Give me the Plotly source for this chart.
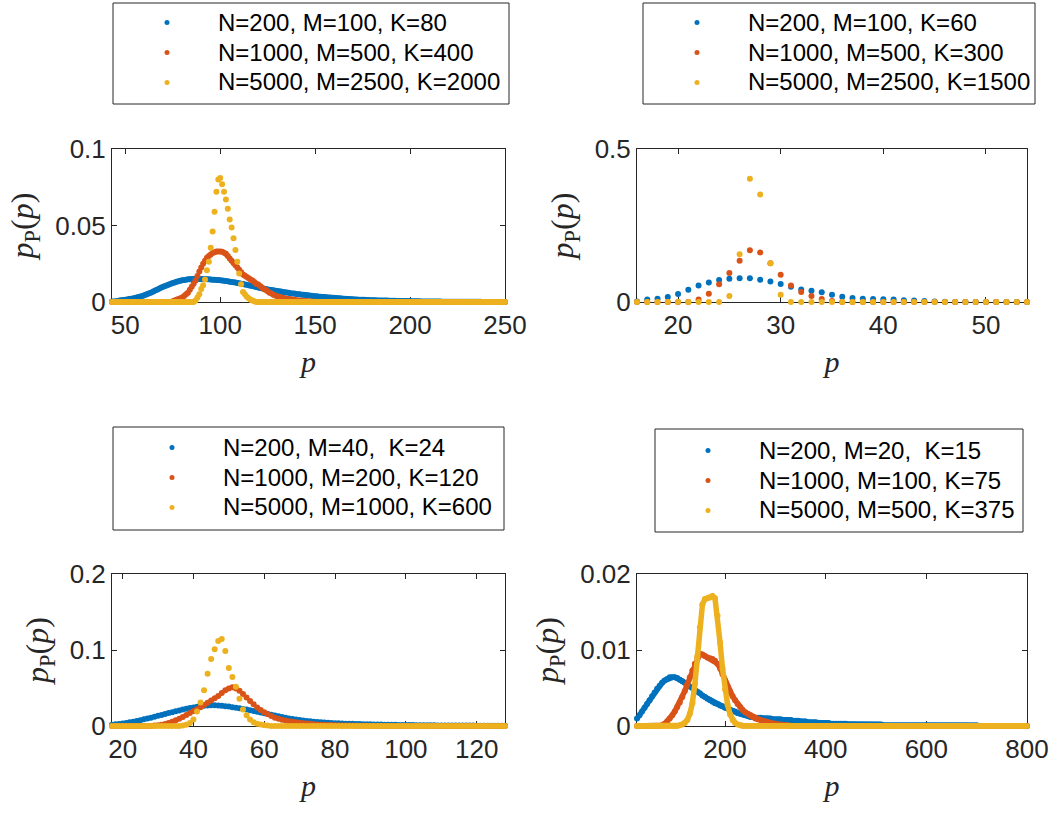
import plotly.graph_objects as go

W, H = 1063, 813
COLORS = ["#0072BD", "#D95319", "#EDB120"]

# ---------------- data ----------------
# panel (a)
p_a = list(range(43, 251))
blue_a = [0.0003, 0.0004, 0.0005, 0.0007, 0.0009, 0.0011, 0.0013, 0.0015, 0.0017, 0.0019,
          0.0021, 0.0023, 0.0026, 0.0029, 0.0032, 0.0036, 0.0040, 0.0044, 0.0049, 0.0054,
          0.0059, 0.0064, 0.0070, 0.0076, 0.0082, 0.0088, 0.0094, 0.0099, 0.0105, 0.0110,
          0.0115, 0.0120, 0.0124, 0.0128, 0.0132, 0.0136, 0.0139, 0.0142, 0.0144, 0.0146,
          0.0148, 0.0149, 0.0150, 0.0151, 0.0151, 0.0151, 0.0151, 0.0151, 0.0150, 0.0150,
          0.0149, 0.0148, 0.0147, 0.0146, 0.0145, 0.0144, 0.0143, 0.0142, 0.0140, 0.0139,
          0.0137, 0.0135, 0.0133, 0.0131, 0.0129, 0.0127, 0.0125, 0.0123, 0.0120, 0.0118,
          0.0115, 0.0112, 0.0110, 0.0107, 0.0104, 0.0101, 0.0098, 0.0095, 0.0092, 0.0090,
          0.0087, 0.0085, 0.0082, 0.0080, 0.0078, 0.0076, 0.0074, 0.0072, 0.0070, 0.0068,
          0.0066, 0.0064, 0.0062, 0.0060, 0.0058, 0.0056, 0.0055, 0.0053, 0.0051, 0.0050,
          0.0048, 0.0047, 0.0045, 0.0044, 0.0042, 0.0041, 0.0039, 0.0038, 0.0037, 0.0035,
          0.0034, 0.0033, 0.0032, 0.0031, 0.0030, 0.0029, 0.0028, 0.0027, 0.0026, 0.0025,
          0.0024, 0.0023, 0.0022, 0.0021, 0.0020, 0.0019, 0.0018, 0.0018, 0.0017, 0.0016,
          0.0015, 0.0015, 0.0014, 0.0014, 0.0013, 0.0013, 0.0012, 0.0012, 0.0011, 0.0011,
          0.0010, 0.0010, 0.0010, 0.0009, 0.0009, 0.0009, 0.0008, 0.0008, 0.0008, 0.0008,
          0.0007, 0.0007, 0.0007, 0.0007, 0.0006, 0.0006, 0.0006, 0.0006, 0.0005, 0.0005,
          0.0005, 0.0005, 0.0005, 0.0004, 0.0004, 0.0004, 0.0004, 0.0004, 0.0003, 0.0003,
          0.0003, 0.0003, 0.0003, 0.0003, 0.0002, 0.0002, 0.0002, 0.0002, 0.0002, 0.0002,
          0.0002, 0.0001, 0.0001, 0.0001, 0.0001, 0.0001, 0.0001, 0.0001, 0.0001, 0.0001,
          0.0001, 0.0001, 0.0001, 0.0001, 0.0001, 0, 0, 0, 0, 0,
          0, 0, 0, 0, 0, 0, 0, 0]
red_a = ([0] * 32 +
         [0.0005, 0.0010, 0.0015, 0.0020, 0.0025, 0.0030, 0.0040, 0.0050, 0.0060, 0.0080,
          0.0100, 0.0120, 0.0140, 0.0170, 0.0200, 0.0225, 0.0250, 0.0270, 0.0290, 0.0300,
          0.0310, 0.0320, 0.0325, 0.0330, 0.0330, 0.0330, 0.0328, 0.0322, 0.0315, 0.0300,
          0.0285, 0.0270, 0.0255, 0.0240, 0.0225, 0.0210, 0.0195, 0.0180, 0.0172, 0.0163,
          0.0155, 0.0147, 0.0140, 0.0130, 0.0120, 0.0115, 0.0105, 0.0095, 0.0085, 0.0078,
          0.0070, 0.0060, 0.0055, 0.0048, 0.0042, 0.0038, 0.0034, 0.0030, 0.0027, 0.0024,
          0.0022, 0.0020, 0.0018, 0.0016, 0.0014, 0.0012, 0.0010, 0.0009, 0.0008, 0.0007,
          0.0006, 0.0005, 0.0004, 0.0003, 0.0002, 0.0001] +
         [0] * 100)
yellow_a = ([0] * 44 +
            [0.0010, 0.0030, 0.0050, 0.0085, 0.0110, 0.0147, 0.0208, 0.0263, 0.0355, 0.0460,
             0.0590, 0.0720, 0.0800, 0.0810, 0.0770, 0.0720, 0.0670, 0.0610, 0.0540, 0.0487,
             0.0417, 0.0340, 0.0263, 0.0186, 0.0116, 0.0066, 0.0050, 0.0035, 0.0025, 0.0015,
             0.0010, 0.0005] +
            [0] * 132)
labels_a = ["N=200, M=100, K=80", "N=1000, M=500, K=400", "N=5000, M=2500, K=2000"]

# panel (b)
p_b = list(range(16, 55))
blue_b = [0.002, 0.008, 0.011, 0.016, 0.026, 0.040, 0.054, 0.064, 0.072, 0.076,
          0.078, 0.078, 0.073, 0.067, 0.059, 0.050, 0.041, 0.037, 0.032, 0.024,
          0.017, 0.013, 0.011, 0.010, 0.009, 0.008, 0.006, 0.005, 0.003, 0.002,
          0.001, 0, 0, 0, 0, 0, 0, 0, 0]
red_b = [0, 0, 0, 0, 0, 0, 0.008, 0.027, 0.058, 0.095,
         0.135, 0.169, 0.162, 0.127, 0.089, 0.054, 0.033, 0.020, 0.010, 0.003,
         0, 0, 0, 0, 0, 0, 0, 0, 0, 0,
         0, 0, 0, 0, 0, 0, 0, 0, 0]
yellow_b = [0, 0, 0, 0, 0, 0, 0, 0, 0, 0.020,
            0.156, 0.403, 0.351, 0.127, 0.024, 0, 0, 0, 0, 0,
            0, 0, 0, 0, 0, 0, 0, 0, 0, 0,
            0, 0, 0, 0, 0, 0, 0, 0, 0]
labels_b = ["N=200, M=100, K=60", "N=1000, M=500, K=300", "N=5000, M=2500, K=1500"]

# panel (c)
p_c = list(range(17, 129))
blue_c = [0.0018, 0.0022, 0.0027, 0.0033, 0.0040, 0.0048, 0.0057, 0.0067, 0.0077, 0.0088,
          0.0099, 0.0110, 0.0122, 0.0134, 0.0146, 0.0158, 0.0170, 0.0182, 0.0194, 0.0205,
          0.0216, 0.0226, 0.0236, 0.0245, 0.0253, 0.0260, 0.0266, 0.0270, 0.0272, 0.0272,
          0.0270, 0.0266, 0.0261, 0.0255, 0.0248, 0.0241, 0.0233, 0.0225, 0.0216, 0.0207,
          0.0197, 0.0187, 0.0177, 0.0167, 0.0157, 0.0147, 0.0137, 0.0127, 0.0118, 0.0109,
          0.0100, 0.0092, 0.0085, 0.0078, 0.0072, 0.0066, 0.0061, 0.0056, 0.0052, 0.0048,
          0.0045, 0.0042, 0.0039, 0.0037, 0.0035, 0.0033, 0.0031, 0.0029, 0.0028, 0.0026,
          0.0025, 0.0024, 0.0023, 0.0022, 0.0021, 0.0020, 0.0019, 0.0018, 0.0017, 0.0016,
          0.0015, 0.0014, 0.0014, 0.0013, 0.0012, 0.0012, 0.0011, 0.0011, 0.0010, 0.0010,
          0.0009, 0.0009, 0.0008, 0.0008, 0.0008, 0.0007, 0.0007, 0.0006, 0.0006, 0.0006,
          0.0005, 0.0005, 0.0005, 0.0004, 0.0004, 0.0004, 0.0003, 0.0003, 0.0003, 0.0003,
          0.0002, 0.0002]
red_c = ([0] * 12 +
         [0.0005, 0.0010, 0.0016, 0.0025, 0.0038, 0.0055, 0.0075, 0.0097, 0.0120, 0.0145,
          0.0170, 0.0196, 0.0222, 0.0248, 0.0275, 0.0305, 0.0335, 0.0365, 0.0395, 0.0435,
          0.0470, 0.0495, 0.0510, 0.0495, 0.0465, 0.0420, 0.0375, 0.0330, 0.0285, 0.0245,
          0.0210, 0.0180, 0.0153, 0.0130, 0.0110, 0.0095, 0.0083, 0.0072, 0.0063, 0.0055,
          0.0048, 0.0042, 0.0037, 0.0032, 0.0028, 0.0024, 0.0021, 0.0018, 0.0016, 0.0014,
          0.0012, 0.0010, 0.0009, 0.0008, 0.0007, 0.0006, 0.0005, 0.0004, 0.0003, 0.0002,
          0.0002, 0.0001] +
         [0] * 38)
yellow_c = ([0] * 20 +
            [0.0005, 0.0015, 0.0040, 0.0087, 0.0190, 0.0310, 0.0470, 0.0686, 0.0880, 0.1010,
             0.1120, 0.1144, 0.0987, 0.0764, 0.0646, 0.0515, 0.0358, 0.0218, 0.0140, 0.0087,
             0.0050, 0.0030, 0.0020, 0.0010, 0.0005] +
            [0] * 67)
labels_c = ["N=200, M=40,\u00a0 K=24", "N=1000, M=200, K=120", "N=5000, M=1000, K=600"]

# panel (d)  (sampled every 5 in p)
p_d = list(range(25, 801, 5))
blue_d = [0.0010, 0.0014, 0.0019, 0.0024, 0.0029, 0.0034, 0.0039, 0.0044, 0.0049, 0.0053,
          0.0057, 0.0060, 0.0062, 0.0064, 0.0064, 0.0064, 0.0063, 0.0061, 0.0059, 0.0057,
          0.0055, 0.0052, 0.0050, 0.0047, 0.0045, 0.0043, 0.0040, 0.0038, 0.0036, 0.0034,
          0.0032, 0.0030, 0.0029, 0.0027, 0.0026, 0.0024, 0.0023, 0.0021, 0.0020, 0.0019,
          0.0017, 0.0016, 0.0015, 0.0014, 0.0013, 0.0012, 0.0012, 0.0011, 0.0011, 0.0011,
          0.0010, 0.0010, 0.0010, 0.0010, 0.0009, 0.0009, 0.0009, 0.0009, 0.0008, 0.0008,
          0.0008, 0.0008, 0.0007, 0.0007, 0.0007, 0.0006, 0.0006, 0.0006, 0.0005, 0.0005,
          0.0005, 0.0005, 0.0004, 0.0004, 0.0004, 0.0004, 0.0004, 0.0003, 0.0003, 0.0003,
          0.0003, 0.0003, 0.0003, 0.0003, 0.0002, 0.0002, 0.0002, 0.0002, 0.0002, 0.0002,
          0.0002, 0.0002, 0.0002, 0.0002, 0.0002, 0.0002, 0.0002, 0.0002, 0.0001, 0.0001,
          0.0001, 0.0001, 0.0001, 0.0001, 0.0001, 0.0001, 0.0001, 0.0001, 0.0001, 0.0001,
          0.0001, 0.0001, 0.0001, 0.0001, 0.0001, 0.0001, 0.0001, 0.0001, 0.0001, 0.0001,
          0.0001, 0.0001, 0.0001, 0.0001, 0.0001, 0.0001, 0.0001, 0.0001, 0.0001, 0.0001,
          0.0001, 0.0001, 0.0001, 0.0001, 0.0001, 0.0001, 0, 0, 0, 0,
          0, 0, 0, 0, 0, 0, 0, 0, 0, 0,
          0, 0, 0, 0, 0, 0]
red_d = ([0] * 10 +
         [0.0001, 0.0003, 0.0006, 0.0010, 0.0014, 0.0019, 0.0025, 0.0031, 0.0038, 0.0046,
          0.0055, 0.0064, 0.0073, 0.0082, 0.0090, 0.0095, 0.0094, 0.0092, 0.0090, 0.0089,
          0.0088, 0.0086, 0.0082, 0.0076, 0.0068, 0.0060, 0.0052, 0.0045, 0.0039, 0.0034,
          0.0029, 0.0025, 0.0021, 0.0018, 0.0016, 0.0014, 0.0012, 0.0010, 0.0009, 0.0008,
          0.0007, 0.0006, 0.0005, 0.0004, 0.0003, 0.0003, 0.0002, 0.0002, 0.0001, 0.0001,
          0.0001] +
         [0] * 95)
yellow_d = ([0] * 17 +
            [0.0001, 0.0002, 0.0004, 0.0008, 0.0016, 0.0030, 0.0055, 0.0092, 0.0130, 0.0160,
             0.0167, 0.0168, 0.0169, 0.0171, 0.0168, 0.0145, 0.0110, 0.0075, 0.0048, 0.0028,
             0.0015, 0.0008, 0.0004, 0.0002, 0.0001] +
            [0] * 114)
labels_d = ["N=200, M=20,\u00a0 K=15", "N=1000, M=100, K=75", "N=5000, M=500, K=375"]

xticks = [[50, 100, 150, 200, 250], [20, 30, 40, 50],
          [20, 40, 60, 80, 100, 120], [200, 400, 600, 800]]
yticks = [[0, 0.05, 0.1], [0, 0.5], [0, 0.1, 0.2], [0, 0.01, 0.02]]
yticklabels = [["0", "0.05", "0.1"], ["0", "0.5"], ["0", "0.1", "0.2"], ["0", "0.01", "0.02"]]
xranges = [[43, 250], [16, 54], [17, 128], [25, 800]]
yranges = [[0, 0.1], [0, 0.5], [0, 0.2], [0, 0.02]]

panels = [
    (p_a, [blue_a, red_a, yellow_a], labels_a),
    (p_b, [blue_b, red_b, yellow_b], labels_b),
    (p_c, [blue_c, red_c, yellow_c], labels_c),
    (p_d, [blue_d, red_d, yellow_d], labels_d),
]
for p, ser, _ in panels:
    for s in ser:
        assert len(s) == len(p), (len(s), len(p))

# ---------------- layout geometry (pixels) ----------------
AX_BOX = [(112, 505, 149, 302), (637, 1027, 149, 302),
          (112, 505, 574, 726), (637, 1027, 574, 726)]
LEG_BOX = [(113, 509, 3, 104), (643, 1035, 3, 104),
           (113, 504, 427, 530), (655, 1023, 429, 532)]
# (symbol x, centre y of middle row)
LEG_POS = [(165, 52), (695, 52), (170, 477), (706, 480)]
LEG_FONT = 20.7          # sets the row pitch (~30 px)
LEG_TEXT_SIZE = 24       # visible size of the entry text
ITEMW = 92


def px_x(x):
    return x / W


def px_y(y):
    return 1 - y / H


fig = go.Figure()
AXC = "#262626"
tickfont = dict(family="Liberation Sans, Arial, sans-serif", size=26, color=AXC)
xtitlefont = dict(family="Liberation Serif, Times New Roman, serif", size=30, color=AXC)
ytitlefont = dict(family="Liberation Serif, Times New Roman, serif", size=32, color=AXC)

shapes = []
for i, (p, ser, labels) in enumerate(panels):
    k = i + 1
    xa = "x" if k == 1 else f"x{k}"
    ya = "y" if k == 1 else f"y{k}"
    leg = "legend" if k == 1 else f"legend{k}"
    for j, s in enumerate(ser):
        if i == 3:
            fig.add_trace(go.Scatter(
                x=p, y=s, mode="lines+markers", xaxis=xa, yaxis=ya,
                line=dict(color=COLORS[j], width=5.5),
                marker=dict(color=COLORS[j], size=6, line=dict(width=0)),
                cliponaxis=False, showlegend=False, hoverinfo="skip"))
        else:
            fig.add_trace(go.Scatter(
                x=p, y=s, mode="markers", xaxis=xa, yaxis=ya,
                marker=dict(color=COLORS[j], size=6, line=dict(width=0)),
                cliponaxis=False, showlegend=False, hoverinfo="skip"))
    for j, lab in enumerate(labels):
        fig.add_trace(go.Scatter(
            x=[None], y=[None], mode="markers", xaxis=xa, yaxis=ya,
            name=f'<span style="font-size:{LEG_TEXT_SIZE}px">{lab}</span>',
            marker=dict(color=COLORS[j], size=5, line=dict(width=0)),
            legend=leg, showlegend=True))

    x0, x1, y0, y1 = AX_BOX[i]
    axx = dict(domain=[px_x(x0), px_x(x1)], anchor=ya, range=xranges[i],
               tickvals=xticks[i], showline=True, linecolor=AXC, linewidth=1,
               mirror="ticks", ticks="inside", ticklen=5, tickcolor=AXC,
               showgrid=False, zeroline=False, tickfont=tickfont, automargin=False,
               layer="below traces",
               title=dict(text="<i>p</i>", font=xtitlefont, standoff=11))
    axy = dict(domain=[px_y(y1), px_y(y0)], anchor=xa, range=yranges[i],
               tickvals=yticks[i], ticktext=yticklabels[i], showline=True,
               linecolor=AXC, linewidth=1, mirror="ticks", ticks="inside",
               ticklen=5, tickcolor=AXC, showgrid=False, zeroline=False,
               tickfont=tickfont, automargin=False, layer="below traces",
               title=dict(text="<i>p</i><sub>P</sub>(<i>p</i>)", font=ytitlefont,
                          standoff=11))
    fig.update_layout({("xaxis" if k == 1 else f"xaxis{k}"): axx,
                       ("yaxis" if k == 1 else f"yaxis{k}"): axy})

    lx0, lx1, ly0, ly1 = LEG_BOX[i]
    shapes.append(dict(type="rect", xref="paper", yref="paper",
                       x0=px_x(lx0), x1=px_x(lx1), y0=px_y(ly1), y1=px_y(ly0),
                       line=dict(color=AXC, width=1), fillcolor="rgba(0,0,0,0)",
                       layer="above"))
    sx, cy = LEG_POS[i]
    item_h = 1.3 * LEG_FONT + 3
    left = sx - ITEMW / 2 - 3
    top = cy - item_h - (item_h / 2 + 4.5)
    fig.update_layout({leg: dict(
        x=px_x(left), y=px_y(top), xanchor="left", yanchor="top",
        bgcolor="rgba(0,0,0,0)", borderwidth=0, itemwidth=ITEMW,
        font=dict(family="Liberation Sans, Arial, sans-serif", size=LEG_FONT,
                  color="#000000"),
        tracegroupgap=0)})

fig.update_layout(
    template="none", width=W, height=H,
    margin=dict(l=0, r=0, t=0, b=0),
    paper_bgcolor="white", plot_bgcolor="white",
    shapes=shapes,
)

fig.write_html("out.html",
               config={"displayModeBar": False},
               post_script="document.body.style.margin='0px';"
                           "document.body.style.padding='0px';")
